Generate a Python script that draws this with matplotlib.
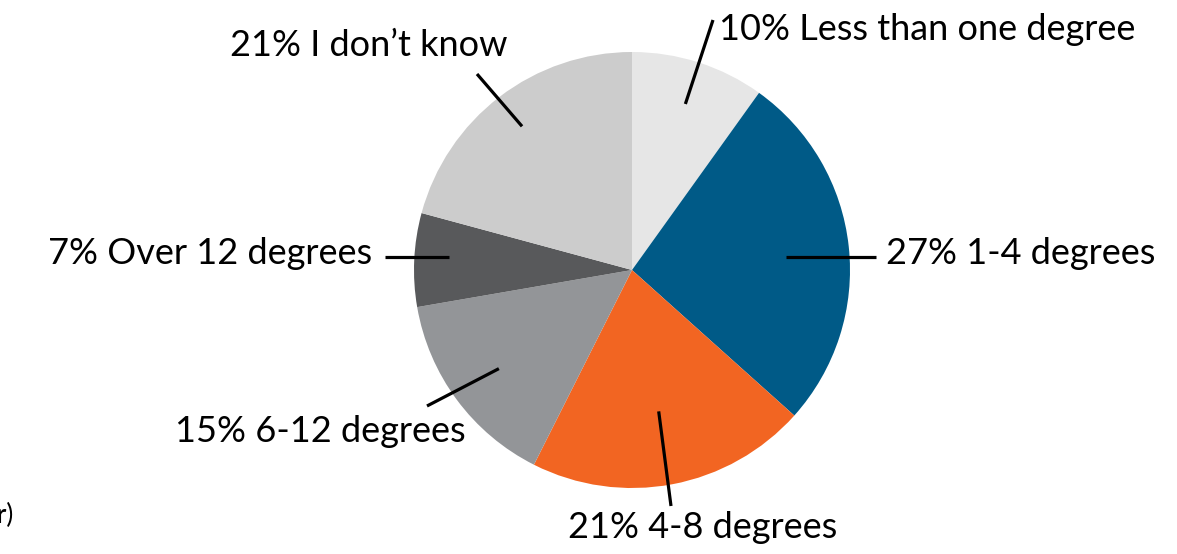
import numpy as np
import matplotlib
matplotlib.use("Agg")
import matplotlib.pyplot as plt

plt.rcParams['font.family'] = ['Lato', 'DejaVu Sans']

# Survey shares, clockwise from 12 o'clock
categories = ["Less than one degree", "1-4 degrees", "4-8 degrees",
              "6-12 degrees", "Over 12 degrees", "I don\u2019t know"]
shares = [10, 27, 21, 15, 7, 21]
colors = ["#e6e6e6", "#005a87", "#f26522", "#939598", "#58595b", "#cccccc"]

W, H = 1177, 554
fig = plt.figure(figsize=(W / 100, H / 100), dpi=100)
ax = fig.add_axes([0, 0, 1, 1])

cx, cy, R = 632, 284, 218
wedges, _ = ax.pie(shares, colors=colors, startangle=90, counterclock=False,
                   center=(cx, cy), radius=R, frame=True,
                   wedgeprops=dict(linewidth=0))
ax.set_xlim(0, W)
ax.set_ylim(0, H)
ax.set_aspect('equal')
ax.axis('off')

# label layout: (inner radius fraction, line end, text anchor, ha)
layout = [
    (0.80, (713, 534), (719, 524), 'left'),
    (0.71, (876, 297), (886, 300), 'left'),
    (0.66, (671, 48), (703, 26), 'center'),
    (0.76, (427, 148), (466, 122), 'right'),
    (0.84, (385, 297), (372, 300), 'right'),
    (0.83, (477, 480), (369, 509), 'center'),
]

for w, pct, name, (rf, end, txt, ha) in zip(wedges, shares, categories, layout):
    mid = np.deg2rad((w.theta1 + w.theta2) / 2)
    sx = cx + rf * R * np.cos(mid)
    sy = cy + rf * R * np.sin(mid)
    if abs(end[1] - sy) < 20 and abs(np.sin(mid)) < 0.2:
        sy = end[1]
    ax.plot([sx, end[0]], [sy, end[1]], color='black', lw=2.3,
            solid_capstyle='butt')
    ax.text(txt[0], txt[1], f"{pct}% {name}", ha=ha, va='center',
            fontsize=26, color='black')

ax.text(14, 39, "year)", ha='right', va='center', fontsize=19, color='black')

fig.savefig("out.png", dpi=100)
